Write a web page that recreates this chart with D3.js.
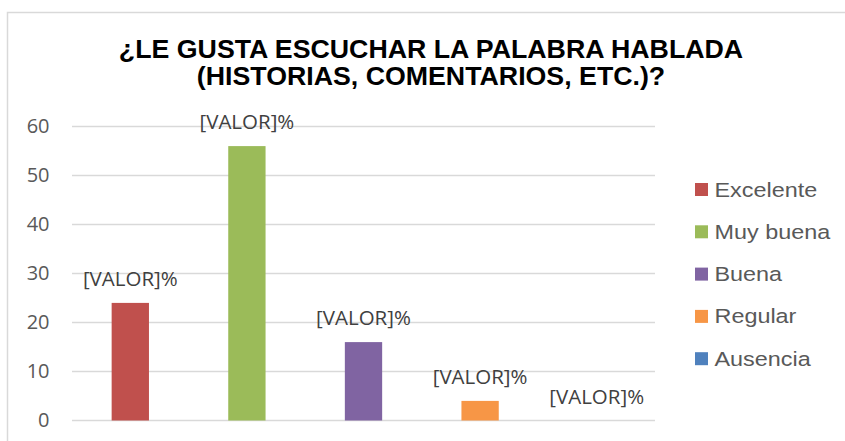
<!DOCTYPE html>
<html>
<head>
<meta charset="utf-8">
<script src="https://cdn.jsdelivr.net/npm/d3@7"></script>
<style>
  body { margin: 0; background: #fff; }
  svg { display: block; }
</style>
</head>
<body>
<svg id="chart"></svg>
<script>
// ---------- data ----------
var categories = ["Excelente", "Muy buena", "Buena", "Regular", "Ausencia"];
var values = [24, 56, 16, 4, 0];
var colors = ["#c0504d", "#9bbb59", "#8064a2", "#f79646", "#4f81bd"];
var yTicks = [0, 10, 20, 30, 40, 50, 60];
var titleLines = ["¿LE GUSTA ESCUCHAR LA PALABRA HABLADA", "(HISTORIAS, COMENTARIOS, ETC.)?"];
var labelText = "[VALOR]%";

var W = 845, H = 441;
var plot = {left: 72, right: 655, top: 126.5, bottom: 420.5};

var svg = d3.select("#chart").attr("width", W).attr("height", H);

// chart frame (runs off the right and bottom edges)
svg.append("rect")
  .attr("x", 7.5).attr("y", 12.5)
  .attr("width", W + 20).attr("height", H + 20)
  .attr("fill", "#fff")
  .attr("stroke", "#d9d9d9")
  .attr("stroke-width", 1.5);

// title (source text is a bit wider than plain bold Arial, so stretch it)
svg.append("g")
  .attr("transform", "translate(431,0) scale(1.07,1)")
  .selectAll("text")
  .data(titleLines)
  .enter().append("text")
  .attr("x", 0)
  .attr("y", function(d, i) { return 58 + i * 27; })
  .attr("text-anchor", "middle")
  .style("font-family", "'Liberation Sans', Arial, sans-serif")
  .style("font-weight", "bold")
  .style("font-size", "25px")
  .style("fill", "#000")
  .text(function(d) { return d; });

// scales
var x = d3.scaleBand()
  .domain(categories)
  .range([plot.left, plot.right])
  .paddingInner(0.68)
  .paddingOuter(0.34);

var y = d3.scaleLinear()
  .domain([0, 60])
  .range([plot.bottom, plot.top]);

// gridlines
svg.append("g")
  .selectAll("line")
  .data(yTicks)
  .enter().append("line")
  .attr("x1", plot.left).attr("x2", plot.right)
  .attr("y1", function(d) { return y(d); })
  .attr("y2", function(d) { return y(d); })
  .attr("stroke", "#d9d9d9")
  .attr("stroke-width", 1.5);

// y axis labels
var yAxis = svg.append("g")
  .attr("transform", "translate(49.5,0)")
  .call(d3.axisLeft(y).tickValues(yTicks).tickSize(0).tickPadding(0));
yAxis.select(".domain").remove();
yAxis.selectAll("text")
  .style("font-family", "'Open Sans', 'Noto Sans', sans-serif")
  .style("font-size", "20px")
  .style("fill", "#595959");

// bars
svg.append("g")
  .selectAll("rect")
  .data(values)
  .enter().append("rect")
  .attr("x", function(d, i) { return x(categories[i]); })
  .attr("width", x.bandwidth())
  .attr("y", function(d) { return y(d); })
  .attr("height", function(d) { return y(0) - y(d); })
  .attr("fill", function(d, i) { return colors[i]; });

// data labels
svg.append("g")
  .selectAll("text")
  .data(values)
  .enter().append("text")
  .attr("x", function(d, i) { return x(categories[i]) + x.bandwidth() / 2; })
  .attr("y", function(d) { return y(d) - 17; })
  .attr("text-anchor", "middle")
  .style("font-family", "'Open Sans', 'Noto Sans', sans-serif")
  .style("font-size", "20.5px")
  .style("fill", "#404040")
  .text(labelText);

// legend
var legend = svg.append("g")
  .selectAll("g")
  .data(categories)
  .enter().append("g")
  .attr("transform", function(d, i) { return "translate(695," + (189.5 + i * 42.3) + ")"; });

legend.append("rect")
  .attr("x", 0).attr("y", -6.5)
  .attr("width", 13).attr("height", 13)
  .attr("fill", function(d, i) { return colors[i]; });

legend.append("text")
  .attr("transform", "translate(19.5,0) scale(1.2,1)")
  .attr("dy", "0.36em")
  .style("font-family", "'Liberation Sans', Arial, sans-serif")
  .style("font-size", "19.5px")
  .style("fill", "#595959")
  .text(function(d) { return d; });
</script>
</body>
</html>
